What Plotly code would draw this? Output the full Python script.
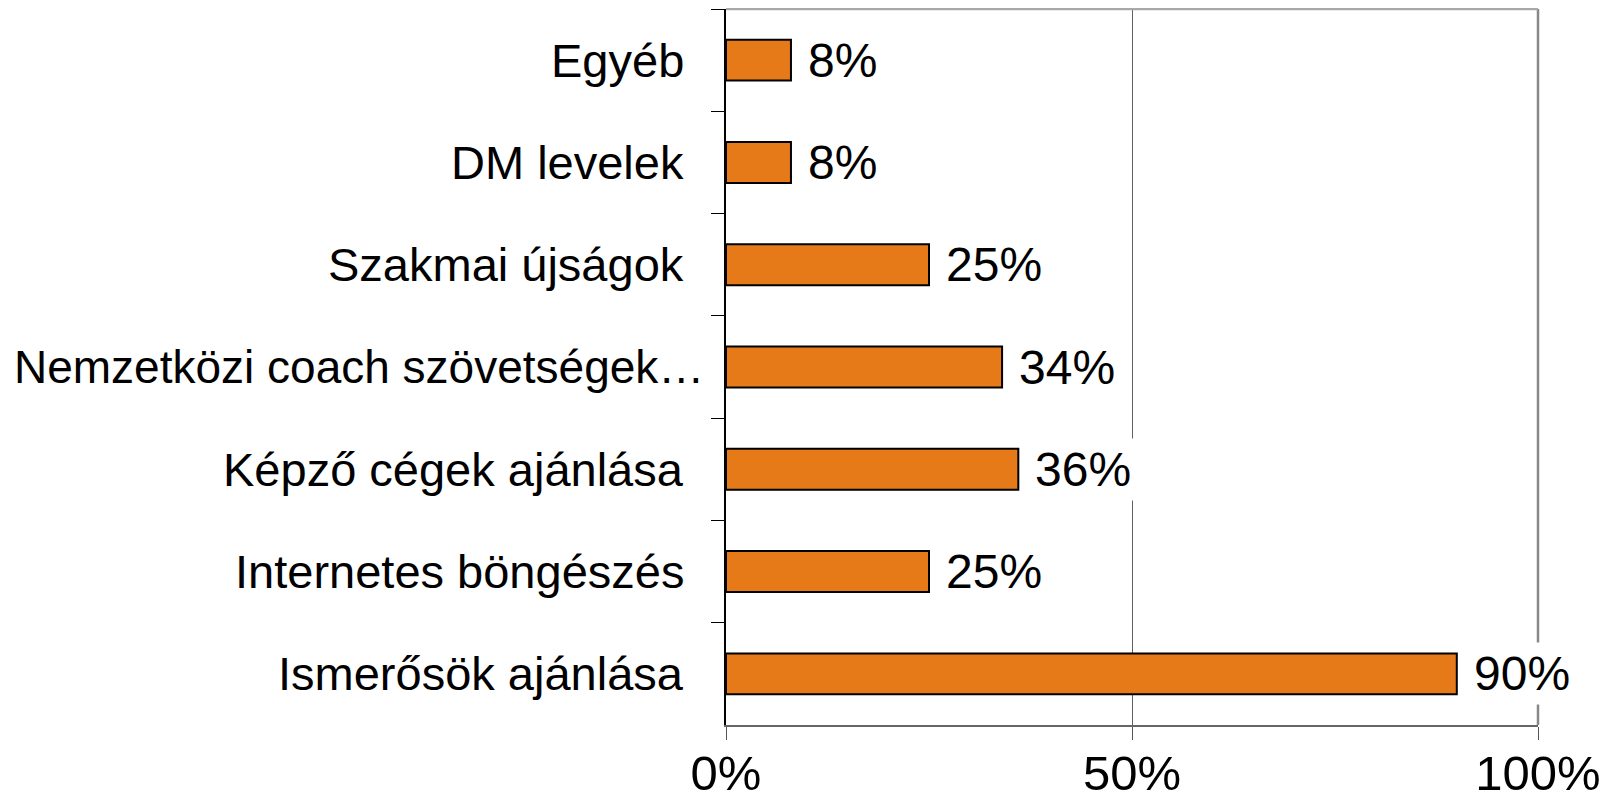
import plotly.graph_objects as go

categories = [
    "Egyéb",
    "DM levelek",
    "Szakmai újságok",
    "Nemzetközi coach szövetségek…",
    "Képző cégek ajánlása",
    "Internetes böngészés",
    "Ismerősök ajánlása",
]
values = [8, 8, 25, 34, 36, 25, 90]
value_labels = ["8%", "8%", "25%", "34%", "36%", "25%", "90%"]
x_tickvals = [0, 50, 100]
x_ticktext = ["0%", "50%", "100%"]

BAR_COLOR = "#E67A19"
# page has an 8px body margin, so the figure is sized to fit the window
W, H = 1604, 793
ML, MR, MT, MB = 718, 74, 1, 76
FONT = "Liberation Sans, Arial, sans-serif"

fig = go.Figure()
fig.add_trace(go.Bar(
    x=values, y=categories, orientation="h",
    marker=dict(color=BAR_COLOR, line=dict(color="black", width=2)),
    width=0.4, hoverinfo="skip", showlegend=False,
))

annotations = []
for c, v, t in zip(categories, values, value_labels):
    annotations.append(dict(
        x=v, y=c, xref="x", yref="y", text=t, showarrow=False,
        xanchor="left", yanchor="middle", xshift=12,
        font=dict(family=FONT, size=48, color="black"),
        bgcolor="white", borderpad=4,
    ))

for c in categories:
    long = len(c) > 22
    if long:
        annotations.append(dict(
            x=-(ML - 4) / (W - ML - MR), y=c, xref="paper", yref="y", text=c,
            showarrow=False, xanchor="left", yanchor="middle",
            font=dict(family=FONT, size=46, color="black"),
        ))
    else:
        annotations.append(dict(
            x=0, y=c, xref="paper", yref="y", text=c, showarrow=False,
            xanchor="right", yanchor="middle", xshift=-40,
            font=dict(family=FONT, size=47, color="black"),
        ))

fig.update_layout(
    template="none",
    width=W, height=H,
    margin=dict(l=ML, r=MR, t=MT, b=MB, pad=0, autoexpand=False),
    paper_bgcolor="white", plot_bgcolor="white",
    bargap=0.6,
    annotations=annotations,
    shapes=[
        dict(type="line", xref="paper", yref="paper", x0=0, x1=1, y0=1, y1=1,
             line=dict(color="#A8A8A8", width=2.5), layer="above"),
        dict(type="line", xref="paper", yref="paper", x0=1, x1=1, y0=0, y1=1,
             line=dict(color="#888888", width=2.5), layer="below"),
    ],
    xaxis=dict(
        range=[0, 100], tickvals=x_tickvals, ticktext=x_ticktext,
        showgrid=True, gridcolor="#606060", gridwidth=1,
        zeroline=False, showline=True, linecolor="#666666", linewidth=2,
        ticks="outside", ticklen=13, tickcolor="#555555", tickwidth=1,
        tickfont=dict(family=FONT, size=49, color="black"),
        ticklabelstandoff=-9, automargin=False,
        fixedrange=True,
    ),
    yaxis=dict(
        type="category", categoryorder="array", categoryarray=categories,
        autorange="reversed",
        showgrid=False, zeroline=False, showline=True, linecolor="black", linewidth=1.5,
        ticks="outside", ticklen=13, tickcolor="black", tickwidth=1,
        tickson="boundaries", showticklabels=False, automargin=False,
        fixedrange=True,
    ),
)

fig.write_html("out.html")
